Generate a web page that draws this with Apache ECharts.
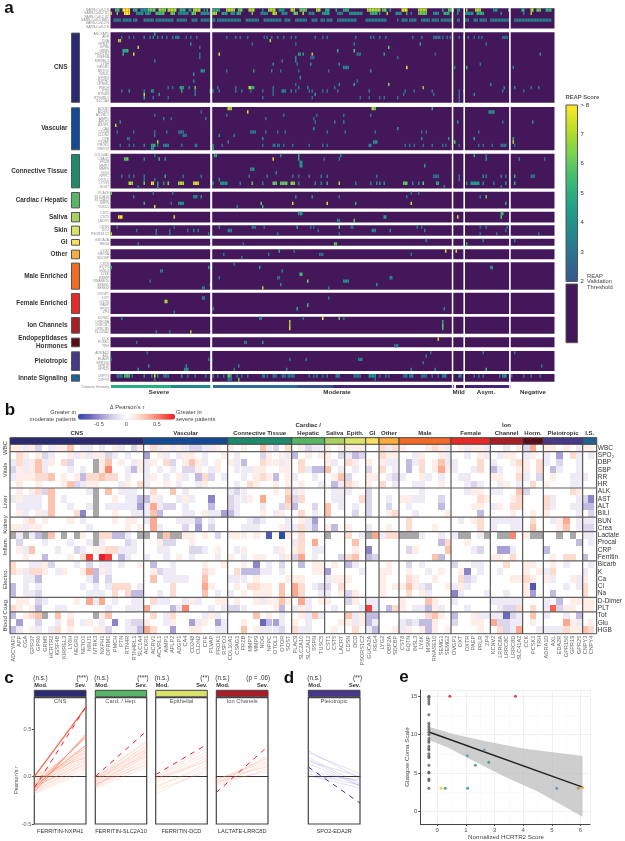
<!DOCTYPE html>
<html><head><meta charset="utf-8">
<style>html,body{margin:0;padding:0;background:#fff}#c{width:625px;height:841px}</style>
<script src="https://cdn.jsdelivr.net/npm/echarts@6/dist/echarts.min.js"></script>
</head><body><div id="c"></div>
<script>
const FONT='"Liberation Sans",Arial,sans-serif';
// ---------- gene names ----------
const genesCNS=['ADCYAP1','APP','CGA','GPR37','GPR6','GRM5','HCRTR2','IGSF4B','KIRREL3','LY6H','NEGR1','NETO1','NINJ1','NTRK3','NXPH1','OPRM1','PMCH','PTN','RTN4R','RTN4RL1','SLC1A4'];
const genesVascular=['ACKR1','ACRV1','ACVRL1','AIMP1','APLP2','AZGP1','CA4','CD248','CLDN2','CPE','PLVAP','PROK1','RSPO3'];
const genesConnective=['COL10A1','CSAG1','FRZB','MMP7','MMP9','NOG','NPPC','OTOL1','OTOR','SOST'];
const genesCardiac=['PLAC9','SLC2A10','SLC2A12','SSPN','TUSC5'];
const genesSaliva=['CST1','CST5','LACRT'];
const genesSkin=['CDSN','DCD','PSORS1C2'];
const genesGI=['GUCA2A','REG4'];
const genesOther=['LYG2','OBP2A','SDCBP'];
const genesMale=['CST8','EQTN','INSL3','LY6K','MSMP','RNASE10','SEMG1','SEMG2'];
const genesFemale=['OVGP1','OXT','OXTR','PAEP','PRLR','ZP4'];
const genesIon=['KCNV2','LRRC8A','LRRC8C','LRRC8D','SLC41A2'];
const genesHorm=['CCK','PCSK1','TRH'];
const genesPleio=['ADRA1D','AXL','EDA2R','GPR156','GPR19','GPR25'];
const genesInnate=['CNPY3','CNPY4'];
const genesTop=['SARS-CoV-2 S','SARS-CoV-2 S1','SARS-CoV-2 S2','SARS-CoV-2 RBD','SARS-CoV-2 N','SARS-CoV-2 E'];
const clinicalRows=['WBC','SPO₂','DBP','SBP','RR','HR','ALK','AST','ALT','BILI','BUN','Crea','Lactate','Procal','CRP','Ferritin','Bicarb','K','Ca','Cl','Na','D-Dimer','PLT','Tot','Glu','HGB'];

// ---------- panel a: [row, column, score, span] ----------
const cellsTop=[[0,3,5.5,3],[0,8,8,5],[0,15,5,3],[0,20,4,5],[0,25,6,5],[0,32,6.5,5],[0,38,7,6],[0,46,5,4],[0,52,4,2],[0,55,7,5],[0,62,4],[0,64,5],[0,68,5,5],[0,77,7,6],[0,85,6,3],[0,92,7,4],[0,101,4],[0,105,7,5],[0,112,4,4],[0,120,7,3],[0,126,6,5],[0,137,7,3],[0,143,5,3],[0,150,5],[0,155,5,4],[0,171,7,9],[0,181,6,3],[0,186,5],[0,194,7.5,4],[0,205,7,6],[0,221,5],[0,225,6,4],[0,231,4,2],[0,237,7],[0,243,7,4],[0,255,4,3],[0,265,6],[0,274,5,2],[0,280,7,2],[0,284,6,3],[0,290,5,4],
[1,0,7],[1,4,6],[1,9,8,4],[1,17,4,5],[1,23,4,4],[1,30,5.5,6],[1,40,6,3],[1,45,3.5,7],[1,54,6,3],[1,60,4,6],[1,68,7,3],[1,74,4.5,4],[1,80,4,3],[1,84,5,3],[1,94,6],[1,100,3.5,5],[1,108,7,3],[1,114,3.5,4],[1,122,6,3],[1,128,7],[1,132,3.5,4],[1,141,4.5,5],[1,151,3.5,4],[1,159,4,9],[1,173,5,5],[1,179,4],[1,184,7],[1,190,4,4],[1,197,5],[1,200,3.5],[1,205,6,6],[1,215,4,4],[1,222,5,4],[1,231,4],[1,236,4,6],[1,244,5,5],[1,260,4],[1,275,3.5],[1,280,7],
[3,2,3.3,5],[3,8,3.3,6],[3,15,3.3,3],[3,22,3.3,7],[3,30,3.3,12],[3,44,3.3,7],[3,54,3.3,4],[3,60,3.3,6],[3,68,3.3,2],[3,71,3.3,16],[3,90,3.3,9],[3,102,3.3,5],[3,107,3.3,7],[3,116,3.3,4],[3,123,3.3,8],[3,134,3.3,4],[3,140,3.3,3],[3,144,3.3,4],[3,151,3.3,13],[3,170,3.3,14],[3,191,3.3],[3,194,3.3,4],[3,199,3.3,5],[3,207,3.3,6],[3,214,3.3,5],[3,220,3.3,8],[3,231,3.3,2],[3,236,3.3,3],[3,242,3.3,3],[3,246,3.3,5],[3,253,3.3,13],[3,269,3.3,25]];
const cellsCNS=[[0,29,5],
[1,7,3],[1,12,3],[1,15,3],[1,22,3.5],[1,26,3],[1,28,4],[1,31,3.5],[1,34,3.5],[1,37,3],[1,41,3.5],[1,43,3.5,3],[1,50,3],[1,53,3],[1,57,3],[1,77,3],[1,83,3],[1,86,3],[1,91,3],[1,102,3],[1,104,3],[1,107,3],[1,111,3],[1,115,3],[1,120,3],[1,123,3],[1,136,3],[1,141,3],[1,144,3],[1,163,3],[1,173,3.5],[1,175,3],[1,179,3],[1,183,3],[1,201,3],[1,207,3],[1,215,3,5],[1,221,3],[1,224,3],[1,226,3],[1,232,3],[1,235,3],[1,238,3],[1,242,3],[1,245,3],[1,247,3],[1,261,3,4],
[2,5,7,2],[2,106,7],[3,53,4],[3,94,3],[3,123,3],[3,162,3.5],[3,206,4.5],[3,250,3],
[4,18,7],[4,59,3],[4,185,6],[5,8,5,4],[5,151,5],[5,162,6],
[6,8,5],[6,15,7.5],[6,59,3],[6,72,7.5],[6,125,4.5,2],[6,128,4.5],[6,134,7],[6,164,3,3],[6,182,4.5],[6,216,2.5],[6,286,4],
[7,59,3],[7,123,4],[7,133,2.5,3],[7,191,3],[8,29,3.5],[8,114,3.5],[8,123,4],
[9,108,4],[9,124,3],[9,133,4],[9,152,4],[9,246,3],
[10,155,3.5,4],[10,197,8],[10,229,3],[10,237,5],[10,268,3.5],
[11,60,4,3],[11,77,3],[11,95,4.5],[11,107,3.5],[11,113,3],[11,125,3],[11,145,3],[11,173,4.5],
[12,55,4],[13,126,4],[14,55,3.5],[14,164,3],
[15,123,3],[15,152,4],[15,162,5],[15,185,6.5],[15,253,4],
[16,38,3],[16,41,3],[16,46,4.5,3],[16,52,3],[16,56,6],[16,71,3],[16,83,3],[16,92,7,2],[16,94,5,2],[16,108,3],[16,125,3.5],[16,131,4],[16,149,3],[16,208,6.5],[16,262,3.5],[16,269,3.5],[16,280,3],[16,285,3],
[17,7,3],[17,12,4],[17,22,3],[17,27,4,2],[17,47,5],[17,56,3.5],[17,66,3,3],[17,72,3],[17,83,3],[17,87,3],[17,93,3],[17,101,3],[17,108,3],[17,114,3.5,3],[17,120,3.5],[17,123,3],[17,132,3],[17,134,3],[17,141,3],[17,144,3],[17,151,3],[17,172,3.5],[17,196,3],[17,202,3],[17,214,3],[17,232,3],[17,235,3.5],[17,261,3],[17,275,3],
[18,22,7],[18,32,4.5],[18,56,3.5],[18,108,3],[18,136,4.5],[18,195,3],[18,215,3],[18,232,3],[18,242,4],
[19,22,5],[19,28,3],[19,38,3],[19,101,3],[19,134,3],[19,166,3],[19,172,3],[19,179,3],[19,182,3],[19,191,3],[19,232,3],
[20,232,3]];
const cellsVascular=[[0,78,7,3],[0,174,7,2],[0,176,6],[0,214,5],[1,91,7.5],[1,60,3],[1,252,4,4],[2,29,3],[2,77,3],[2,115,3],[2,137,3],[2,155,3],[2,173,3.5],
[3,35,3.5],[3,40,3],[3,63,3],[3,103,3],[3,135,3],[4,6,4],[4,136,3],[4,149,3.5],[4,155,3.5],[4,231,4],[4,281,4],[4,261,3],[5,3,7],[6,135,4.5],[6,191,4.5],
[7,4,3],[7,15,3],[7,29,3],[7,37,3],[7,45,3,4],[7,93,3,4],[7,103,3],[7,111,3],[7,116,3],[7,144,3],[7,156,3],[7,176,3],[7,207,3],[7,210,3],[7,245,3],
[8,29,3],[8,48,3,3],[8,72,4],[8,82,3],[9,11,3,2],[9,101,4],[9,207,3.5],[9,225,4],[9,242,4.5],[9,268,5],
[10,31,7],[10,78,3.5],[10,175,4,3],[10,229,6],[10,268,7],
[11,6,3],[11,12,3],[11,15,3],[11,22,4],[11,27,5,3],[11,31,3],[11,35,3.5,4],[11,47,3],[11,56,3,2],[11,68,4],[11,74,3],[11,101,3],[11,108,3,2],[11,111,3,2],[11,115,3],[11,121,3],[11,132,3],[11,141,3],[11,144,3],[11,172,3.5,2],[11,196,3],[11,199,3],[11,202,3],[11,208,3],[11,214,3],[11,221,3],[11,223,3],[11,232,3],[11,245,3],[11,248,3],[11,254,3],[11,260,3,4],[11,269,3],
[12,27,4.5,2],[12,68,4]];
const cellsConnective=[[0,29,3],[0,69,5,2],[0,113,3.5],[0,125,5],[0,153,4],[0,242,5],[0,250,3],
[1,9,6,3],[1,22,3.5],[1,32,5],[1,36,4],[1,108,7.5],[1,125,5],[1,142,3],[1,152,3],[1,250,4.5],[1,272,3.5],[1,289,3],
[2,126,4,2],[3,126,4,2],[3,209,4.5],[4,93,4,3],[5,110,3.5],
[6,7,3],[6,12,3],[6,15,3],[6,22,3],[6,36,5],[6,48,3],[6,60,3],[6,92,3],[6,104,3],[6,121,3],[6,125,3],[6,132,3],[6,140,3.5],[6,144,3.5],[6,177,3],[6,215,3,4],[6,232,3],[6,248,4],[6,250,3.5],[6,260,3],[6,263,3],[6,269,5],[6,280,3,3],
[7,232,3],[7,22,3],[7,72,4],[7,29,3],
[8,12,7,3],[8,22,6],[8,27,8,2],[8,31,5],[8,35,4],[8,38,6.5],[8,45,7,4],[8,55,7.5,4],[8,68,3.5],[8,73,4,5],[8,86,3.5],[8,94,6],[8,101,3.5],[8,108,6,3],[8,113,6,5],[8,120,6.5,3],[8,125,3.5],[8,136,4],[8,140,4],[8,144,5],[8,152,7],[8,163,3.5],[8,173,4],[8,177,4],[8,179,4],[8,182,4],[8,195,6,3],[8,201,4],[8,205,4],[8,208,6],[8,217,5,2],[8,237,4],[8,240,4.5,6],[8,248,4],[8,255,3],[8,263,4],[8,269,5],
[9,18,3],[9,31,4],[9,222,3.5],[9,260,3]];
const cellsCardiac=[[0,0,6],[0,28,3],[0,41,3],[0,200,3],[0,205,3],
[1,15,3.5],[1,55,3.5,3],[1,60,4],[1,123,3.5],[1,134,4],[1,152,3],[1,197,3],[1,246,3],[1,250,6],
[3,22,5],[3,40,3],[3,45,4,4],[3,100,6],[3,121,7.5],[3,144,7.5],[3,163,5],[3,200,7.5],[3,263,5],[4,29,7.5],[4,84,3.5],[4,101,5]];
const cellsSaliva=[[0,125,4,3],[0,260,5.5,2],[1,5,8,3],[1,42,7.5],[1,182,4.5,2],[1,231,7.5],[1,260,6],[2,151,3.5,2],[2,162,6]];
const cellsSkin=[[0,4,3],[0,42,3],[0,72,4],[0,94,3,3],[0,102,3],[0,124,5],[0,133,3],[0,135,3],[0,152,6],[0,160,3,2],[0,204,3],[0,207,3],[0,246,3],[0,250,3.5],[0,264,3],
[1,17,3],[1,30,3.5],[1,39,3],[1,51,3],[1,55,3.5],[1,58,3.5],[1,78,3.5,3],[1,138,3],[1,174,3.5,3],[1,186,4],[1,209,3.5],[1,263,3],
[2,0,7],[2,30,3],[2,39,3],[2,65,3],[2,111,3.5],[2,152,3],[2,246,3],[2,257,3],[2,285,3]];
const cellsGI=[[0,210,3.5],[0,248,3.5],[0,269,3.5],[1,18,3.5],[1,88,3],[1,149,6,2],[1,237,5]];
const cellsOther=[[0,112,5],[0,122,3],[0,223,7.5],[0,230,7.5],[1,75,3],[1,105,3.5],[1,139,3,3],[1,200,3.5],[2,87,3]];
const cellsMale=[[0,82,3],[1,0,5],[1,65,4.5],[1,99,4],[1,253,4.5,2],[2,33,3.5,2],[2,114,3.5],[3,126,5.5,2],[4,72,3],[4,111,3,2],[4,186,3.5,2],[5,26,3],[5,131,6.5],[5,155,4,4],[6,66,3],[6,113,3.5],[6,177,4],[7,61,3.5,2],[7,101,7],[7,145,3]];
const cellsFemale=[[1,61,3.5,2],[1,145,3],[2,36,7,2],[3,131,5.5],[4,68,3],[4,124,5],[4,222,3.5],[5,42,3.5]];
const cellsIon=[[0,7,3.5],[0,99,3.5,2],[0,128,3],[0,141,8],[0,152,6],[0,155,3],[1,119,7],[1,221,5],[2,119,7],[2,221,6],[3,119,7.5],[3,221,5.5],[4,30,3.5],[4,39,3.5],[4,53,7]];
const cellsHorm=[[0,218,7.5],[1,17,3],[1,89,3.5,2],[1,101,4.5],[2,189,3,3]];
const cellsPleio=[[0,24,3],[0,213,3],[0,248,3.5],[0,269,3],[1,210,3.5],[2,0,3],[2,65,3],[2,119,3],[2,130,3],[2,165,3.5,3],[3,208,3],[4,25,4],[4,50,4],[4,85,3.5],[4,287,3],[5,18,4.5],[5,49,4,3],[5,82,3],[5,117,4],[5,200,3.5],[5,216,3.5],[5,250,5.5]];
const cellsInnate=[[0,4,3,4],[0,9,5.5,4],[0,14,3],[0,22,3.5],[0,27,4],[0,29,7.5],[0,31,4],[0,35,3,4],[0,47,4],[0,51,3],[0,56,3],[0,63,3],[0,68,3],[0,71,3],[0,75,3],[0,78,6,2],[0,80,4],[0,84,3],[0,87,3],[0,91,3],[0,101,3.5,2],[0,104,3],[0,108,3,3],[0,114,3,3],[0,118,3,5],[0,132,3],[0,135,3],[0,137,3.5],[0,141,3],[0,144,3],[0,150,3.5,3],[0,162,3,5],[0,172,4,5],[0,179,3],[0,183,3],[0,185,3],[0,195,3,3],[0,199,3.5,3],[0,207,3,4],[0,214,3],[0,218,3],[0,221,3.5,3],[0,232,4,2],[0,242,3],[0,245,3],[0,248,3],[0,259,3],[0,261,4,3],[0,267,3],[0,275,3],[0,280,3],[0,286,3],
[1,29,3.5],[1,78,3,3],[1,85,6],[1,176,3]];
// severity runs: [firstColumn, span, severityLevel]
const severityRuns=[[0,40,5],[40,27,4],[68,56,3],[124,24,2],[148,81,1],[230,7,0],[237,30,1]];

// ---------- panel b: Δ Pearson r in tenths, per clinical row, per gene group ----------
const _=null;
const dWBC=[[1,1,-1,1,-2,0,-1,1,1,3,0,-1,-1,0,-1,0,1,-1,0,-2,1],[0,2,-1,1,-1,1,-1,-2,-2,-1,-1,1,0],[1,0,1,0,0,3,-1,-2,0,2],[0,1,-2,-1,-1],[1,0,1],[1,1,1],[0,0],[2,-1,2],[1,0,0,0,1,2,1,-1],[0,1,-1,1,1,-1],[0,0,-1,0,1],[-2,4,0],[1,1,0,1,0,-1],[1,1]];
const dSPO2=[[0,2,1,0,1,-2,-1,0,0,1,-1,1,-1,1,1,-2,-1,0,-1,0,0],[-4,0,1,-1,0,-1,1,1,0,-1,0,0,1],[0,-1,0,0,0,-2,1,0,1,-1],[-3,0,1,0,1],[1,0,-2],[-1,-3,-2],[0,0],[2,1,1],[0,0,-1,1,0,0,1,-1],[0,0,-1,0,1,-1],[0,-1,1,1,0],[-1,1,0],[-1,0,-4,0,2,-1],[0,-1]];
const dDBP=[[-1,2,-1,1,3,-1,1,0,2,-2,0,0,0,_,1,3,0,1,0,-1,1],[-1,1,0,2,-2,0,1,3,1,-1,0,1,0],[1,-1,-3,0,0,2,1,1,-1,1],[0,2,0,0,0],[1,-1,0],[2,1,0],[1,0],[1,-1,-1],[0,-3,-1,2,0,1,3,-1],[-1,0,0,0,2,0],[-1,0,0,1,2],[1,0,2],[-1,0,-2,0,0,-1],[0,0]];
const dSBP=[[-2,1,-1,1,3,-1,0,0,0,-1,0,-1,0,_,1,5,0,0,-1,-3,1],[-1,0,-1,0,-1,0,-2,-2,1,0,-1,1,0],[0,-1,-1,-1,1,1,0,0,1,1],[0,2,-1,-3,-3],[3,0,-1],[0,-1,0],[-2,0],[2,0,-1],[0,-3,0,2,0,1,4,1],[-1,0,0,-1,2,0],[-3,-1,0,0,1],[1,0,2],[0,-3,-1,0,0,-1],[0,0]];
const dRR=[[-1,1,1,1,2,2,3,0,1,0,1,-3,2,2,3,2,2,0,-1,0,0],[-1,1,0,-1,0,1,-1,0,-3,2,-2,0,-1],[0,0,-1,0,1,2,1,-3,0,1],[-1,0,0,-1,0],[0,1,3],[-2,0,0],[1,1],[0,-1,-2],[-1,0,0,1,-1,0,-1,0],[0,-1,-1,0,0,0],[1,1,0,0,2],[-1,0,-2],[0,1,0,0,-1,-1],[-1,0]];
const dHR=[[0,1,0,0,1,0,0,0,1,3,-2,-1,1,1,0,0,0,-1,1,0,2],[-1,0,0,1,0,-1,0,0,-1,1,0,0,0],[0,-1,0,2,1,0,0,1,0,1],[0,1,0,0,-1],[0,-3,-1],[2,1,0],[1,0],[2,0,-1],[0,0,-1,-1,0,0,1,0],[0,0,-1,-2,-1,0],[0,-1,1,0,-1],[0,2,0],[1,0,0,0,-1,-1],[0,0]];
const dALK=[[0,1,0,1,2,-2,3,0,0,0,0,0,-1,_,0,3,0,-1,-1,-1,0],[0,2,0,0,3,0,-1,0,0,0,0,0,0],[-1,-2,-1,0,0,0,0,1,0,2],[-1,1,0,0,0],[0,-1,-1],[-1,0,0],[-2,0],[0,0,0],[0,0,0,-1,0,0,0,0],[0,0,-1,1,1,0],[-1,-1,0,0,3],[-2,0,0],[0,0,0,0,2,1],[0,0]];
const dAST=[[-1,1,-1,-1,-1,0,3,0,-1,0,0,0,0,_,0,0,1,0,-1,-1,-3],[-3,1,-1,0,0,-1,1,-1,0,0,-5,0,0],[-2,-1,-1,1,0,4,0,0,0,3],[-2,2,0,0,0],[0,-1,-1],[0,0,2],[-2,0],[0,-1,0],[1,1,-1,-1,0,0,-2,0],[0,0,0,0,2,1],[0,0,0,1,2],[0,0,0],[2,-1,0,0,0,-1],[-2,-5]];
const dALT=[[0,-1,-1,-1,-1,0,3,0,0,-1,0,0,-1,_,0,-1,-1,-1,-1,-1,-4],[-1,4,-1,-2,-2,0,-1,0,0,0,-3,0,0],[-2,-1,0,0,0,-1,0,0,-2,2],[-3,0,0,-2,0],[3,0,-1],[0,-1,0],[-2,0],[0,-2,0],[0,-1,0,0,0,0,-3,0],[0,0,0,1,1,0],[-1,1,0,2,2],[0,0,0],[2,-1,0,0,-1,-1],[-3,-3]];
const dBILI=[[0,1,-1,0,1,-1,3,0,0,0,2,-5,0,_,0,0,1,0,0,-1,-1],[-1,3,-3,0,0,0,-1,-1,0,1,-1,-1,-4],[-3,-1,0,0,0,1,0,-1,1,0],[0,2,0,-1,0],[3,0,0],[0,-2,0],[-2,0],[0,1,2],[0,0,-1,0,0,0,0,1],[0,0,0,0,-3,0],[0,0,0,1,0],[0,1,0],[1,0,0,0,0,-1],[0,-2]];
const dBUN=[[0,0,1,2,0,1,0,0,0,1,0,-1,0,0,0,0,1,0,1,1,0],[-1,4,0,0,0,-1,-1,-1,-3,0,-1,0,0],[0,0,0,-1,-2,-1,0,0,0,-1],[0,1,-1,-4,0],[0,0,0],[0,0,0],[0,0],[0,0,0],[0,2,0,0,0,0,0,0],[0,-1,0,1,2,0],[-1,-1,-1,-1,-1],[0,2,0],[0,-1,1,4,0,-1],[-1,-1]];
const dCrea=[[1,1,-1,1,1,0,0,0,0,0,0,0,-1,0,0,0,0,0,1,0,1],[0,4,-1,0,0,0,-2,0,-4,0,-2,0,0],[0,0,-1,-1,-1,0,0,0,1,-1],[-1,2,-1,-3,0],[1,-3,0],[1,0,0],[-1,0],[0,1,0],[0,2,0,0,0,1,0,0],[0,0,0,0,2,0],[-1,0,0,-1,-1],[0,3,0],[0,0,1,3,0,-1],[-2,-2]];
const dLactate=[[_,-1,_,-1,-3,_,3,0,_,0,_,1,0,_,2,2,-3,-3,-1,0,_],[_,0,_,3,_,_,1,1,0,1,0,-2,0],[1,1,1,0,1,0,-7,0,-8,1],[0,2,0,0,0],[_,0,0],[2,0,-1],[_,4],[-1,2,2],[_,_,_,-1,0,0,-1,0],[-1,_,_,0,-1,_],[0,_,_,5,0],[1,_,_],[0,0,_,0,_,0],[-1,-1]];
const dProcal=[[0,-2,0,0,0,-1,0,0,0,-1,0,0,-1,_,-1,0,0,0,-2,-1,0],[0,0,1,-2,-2,0,0,1,0,0,0,0,0],[0,0,0,0,0,0,0,0,0,0],[-1,2,0,4,0],[0,0,0],[0,3,0],[0,0],[0,0,0],[0,0,0,0,0,0,-3,2],[0,0,1,0,0,0],[0,0,0,0,0],[0,0,0],[0,0,0,0,0,-3],[0,-1]];
const dCRP=[[0,1,-1,3,0,0,0,-1,0,0,-2,-1,0,1,1,2,2,-1,-1,-1,0],[0,0,-1,-1,0,0,0,-2,-2,-1,0,1,0],[0,-1,1,0,0,0,0,-1,1,0],[1,2,0,-1,-1],[0,0,0],[0,1,0],[-5,0],[0,0,0],[0,-2,1,0,0,0,0,3],[0,0,0,-1,-2,0],[0,-4,-4,-1,0],[0,0,0],[-3,0,0,0,0,0],[0,0]];
const dFerritin=[[0,0,1,0,0,-3,0,0,0,1,0,2,7,0,8,7,0,-3,-1,0,0],[-1,0,0,-1,0,1,0,-1,0,0,0,-1,0],[1,0,-1,0,1,1,0,0,-1,1],[-2,4,0,-1,0],[0,0,-2],[2,3,0],[-3,-2],[0,0,0],[0,0,0,0,0,3,-3,0],[0,0,0,0,0,0],[1,1,0,2,0],[0,0,0],[0,1,0,2,2,0],[-3,0]];
const dBicarb=[[2,0,0,-1,-1,1,-2,0,0,0,-1,0,-2,0,-1,-1,0,-1,0,0,1],[0,-3,0,0,-1,0,0,0,0,1,0,0,1],[0,0,1,0,-5,0,-1,0,-2,0],[0,-3,0,1,1],[0,1,0],[-3,-1,0],[0,0],[0,1,0],[0,-2,0,-1,0,0,0,0],[-2,0,0,-1,-1,0],[0,0,2,0,0],[1,1,0],[0,1,0,-1,0,0],[0,-1]];
const dK=[[2,1,-1,2,2,1,0,-1,1,0,0,1,4,-3,1,-1,0,0,0,0,0],[0,1,-2,-1,-1,0,0,0,0,2,1,0,0],[0,2,-3,-3,-3,-1,-1,0,-1,0],[0,0,0,1,1],[-4,0,0],[0,0,-1],[0,0],[1,1,0],[0,1,0,0,-1,0,1,0],[0,1,-5,0,-1,0],[0,-1,0,0,0],[1,0,1],[-1,2,0,0,0,0],[-1,0]];
const dCa=[[0,0,-1,-1,-3,0,0,0,0,0,0,0,-1,-3,0,-2,0,0,0,0,0],[0,3,0,-1,-1,-1,-1,0,0,3,0,0,0],[-1,-1,-1,0,1,0,0,0,0,1],[1,1,0,0,0],[-1,1,1],[1,0,0],[0,0],[1,0,0],[0,2,1,0,0,1,0,0],[0,2,-2,-1,0,0],[0,0,0,1,1],[2,1,0],[1,-1,0,0,1,-1],[1,0]];
const dCl=[[-3,0,-1,0,-1,0,0,0,0,0,0,-1,0,-1,0,-1,2,2,2,0,-1],[0,0,0,0,2,0,0,0,0,4,1,0,0],[0,1,0,2,2,1,1,0,3,0],[4,2,0,-1,-2],[-2,0,2],[0,0,0],[0,0],[1,0,1],[1,3,1,-1,-2,0,0,1],[-1,1,-1,0,0,0],[0,0,0,0,0],[1,-7,0],[0,0,0,-1,0,-1],[2,0]];
const dNa=[[-3,0,-1,-1,-2,0,0,0,0,0,0,0,-1,-1,-1,0,2,0,2,-3,-3],[0,0,-1,0,2,0,0,0,0,3,0,-1,0],[-1,0,1,0,1,1,1,0,3,0],[4,2,0,0,-1],[-1,0,1],[-2,1,0],[0,0],[1,0,0],[0,2,0,1,-1,0,0,0],[-5,-1,0,0,0,-1],[0,0,-1,0,0],[1,-4,0],[0,-3,0,0,0,0],[2,0]];
const dDDimer=[[0,1,1,0,-2,-1,0,0,0,0,1,0,4,-1,4,0,-1,0,0,-1,-1],[0,2,-1,-1,0,0,-1,1,-1,0,0,1,1],[0,1,0,0,1,-1,1,1,3,1],[0,4,-1,0,1],[1,0,0],[-2,1,0],[-1,-1],[0,0,0],[1,0,0,0,3,1,0,0],[-1,0,0,0,0,0],[-1,-1,-1,-1,-1],[0,0,0],[-1,0,-3,0,1,1],[1,1]];
const dPLT=[[2,1,0,1,-3,0,0,-1,-1,0,0,0,0,0,0,-1,0,0,-1,-1,-1],[4,0,0,0,-3,-1,5,0,0,0,-1,0,-1],[-2,-2,-1,0,0,0,0,1,-3,0],[-1,1,-1,0,0],[0,-1,0],[0,0,-1],[7,-1],[0,-3,2],[1,0,-1,-1,-3,1,-1,0],[0,0,-1,0,0,0],[0,-1,-2,-2,2],[0,2,0],[-1,6,-2,1,1,0],[1,1]];
const dTot=[[-3,0,1,2,3,_,0,3,0,1,0,0,0,_,1,3,0,0,0,0,0],[0,2,0,-1,2,0,0,0,0,-1,1,-1,0],[0,0,0,0,3,0,1,0,-1,0],[0,1,-1,3,-1],[0,0,0],[3,-1,1],[-3,-3],[0,0,0],[0,0,0,0,2,3,1,0],[-3,0,0,1,-1,-1],[-1,-1,-6,-2,-1],[0,3,0],[-1,0,0,-1,0,-3],[0,0]];
const dGlu=[[0,-4,0,0,-2,0,0,-1,0,2,0,-1,1,0,-1,0,-5,0,-1,-2,-2],[1,0,0,-1,1,0,0,-4,-1,1,0,-4,-1],[0,0,1,0,0,-6,-3,-4,-1,0],[1,0,-1,0,0],[0,0,1],[1,-1,1],[-3,-1],[0,0,0],[-1,-2,-1,-3,-3,1,0,0],[-2,0,0,1,1,0],[4,-2,-2,-1,-1],[0,1,0],[0,0,0,4,1,-1],[0,1]];
const dHGB=[[-3,-1,0,1,-1,0,-1,2,0,1,0,0,0,1,1,-2,0,0,-1,-1,-3],[4,2,0,0,-4,0,0,1,1,0,0,-1,-1],[0,0,3,0,1,-1,-1,-1,-2,0],[2,-1,-1,0,0],[0,1,0],[0,2,0],[-1,-3],[0,0,1],[-1,1,0,1,-3,1,0,1],[0,0,0,0,1,0],[0,2,-2,-1,4],[0,0,-1],[-1,-1,-1,2,1,1],[3,2]];
const deltaRows=[dWBC,dSPO2,dDBP,dSBP,dRR,dHR,dALK,dAST,dALT,dBILI,dBUN,dCrea,dLactate,dProcal,dCRP,dFerritin,dBicarb,dK,dCa,dCl,dNa,dDDimer,dPLT,dTot,dGlu,dHGB];

// ---------- panel c / d: [moderate r, severe r] ----------
const cnsPale=[[-0.18,0.05],[-0.17,0.08],[-0.16,0.1],[-0.15,0.14],[-0.14,0.12],[-0.13,0.17],[-0.12,0.2],[-0.11,0.16],[-0.1,0.22],[-0.09,0.25],[-0.08,0.18],[-0.07,0.28],[-0.06,0.24],[-0.05,0.3],[-0.04,0.21],[-0.03,0.26],[-0.02,0.33],[0,0.3],[0.01,0.2],[-0.14,0.28],[-0.12,0.31],[-0.1,0.13]];
const cnsStrong=[[-0.16,0.45],[-0.13,0.43],[-0.1,0.33],[-0.09,0.41]];
const cnsSolid=[[0,0.73]];
const cnsDash=[-0.12,0.735];
const cardPale=[[-0.12,0.1],[-0.11,0.14],[-0.1,0.18],[-0.09,0.22],[-0.08,0.16],[-0.07,0.24],[-0.06,0.2],[-0.05,0.26],[-0.04,0.28],[-0.03,0.3],[-0.02,0.22],[-0.01,0.32],[0,0.36],[0,0.28],[-0.06,0.34],[-0.1,0.26],[-0.03,0.38],[-0.08,0.12]];
const cardDash=[0,0.48];
const epiPale=[[-0.18,0.08],[-0.14,0.05],[-0.12,0.14],[-0.1,0.1],[-0.07,0.18],[-0.05,0.2],[-0.03,0.23],[-0.01,0.26],[0,0.3],[-0.02,0.16]];
const epiDash=[0.02,0.34];
const ionPale=[[-0.1,0.08],[-0.09,0.15],[-0.08,0.22],[-0.07,0.12],[-0.06,0.19],[-0.05,0.05],[-0.04,0.2],[-0.03,0.16],[-0.02,0.1]];
const ionDash=[-0.17,0.32];
const pleioPale=[[0.27,-0.02],[0.25,0.03],[0.2,-0.08],[0.18,-0.1],[0.14,-0.1],[0.06,-0.05],[0.03,-0.09],[0.01,-0.12],[0,-0.03],[0.16,0]];
const pleioDash=[0.1,-0.28];

// ---------- panel e ----------
const gcsAtZero=[3,4,4.2,5,5.1,6,7,7.2,7.5,8,8.2,8.5,9,9.2,9.5,10,10.3,10.6,10.9,11.2,11.5,12.6,14,14.3,14.6,14.9,15];
const xTickLabels=[0,1,3,4,5,6];
const hcrtrPoints=[[0.44,15,'#c8202f'],[2.73,15,'#c8106c'],[1.64,8,'#6a8fc4'],[1.05,7.25,'#6a8fc4'],[1.8,6.4,'#1f9e5f'],[1.33,6,'#1f9e5f'],[0.13,3,'#e8c820'],[0.28,3,'#1f9e5f'],[1.06,3,'#1f9e5f'],[4.17,3,'#3f8fd0'],[4.92,3,'#b08d50'],[5.07,3.1,'#e8962a']];
const fitLine=[[-0.29,10.35],[5.07,3.15]];
const bandUpper=[[-0.29,11.04],[0.62,10.04],[1.66,9.17],[2.94,8.22],[5.07,7.22]];
const bandLower=[[-0.29,9.3],[0.38,8.3],[1.2,6.7],[2.36,4.52],[3.52,2.57],[5.07,-0.7]];

// ---------- layout ----------
const NCOL=296, A_LEFT=110.5, A_W=444;
const aPanels=[
 {cells:cellsTop,genes:genesTop,top:8.3,h:20.2},
 {cells:cellsCNS,genes:genesCNS,top:32.3,h:70.5,label:['CNS'],color:'#2a2a72'},
 {cells:cellsVascular,genes:genesVascular,top:107,h:43.3,label:['Vascular'],color:'#134a96'},
 {cells:cellsConnective,genes:genesConnective,top:153.7,h:34.7,label:['Connective Tissue'],color:'#1d8a6c'},
 {cells:cellsCardiac,genes:genesCardiac,top:191.7,h:16.7,label:['Cardiac / Hepatic'],color:'#58b566'},
 {cells:cellsSaliva,genes:genesSaliva,top:211.7,h:10.7,label:['Saliva'],color:'#a9d15e'},
 {cells:cellsSkin,genes:genesSkin,top:225.3,h:10.4,label:['Skin'],color:'#d9e36a'},
 {cells:cellsGI,genes:genesGI,top:238.7,h:7,label:['GI'],color:'#f8de62'},
 {cells:cellsOther,genes:genesOther,top:249.3,h:10,label:['Other'],color:'#f9ac3c'},
 {cells:cellsMale,genes:genesMale,top:262.3,h:27.4,label:['Male Enriched'],color:'#f26b24'},
 {cells:cellsFemale,genes:genesFemale,top:292.7,h:21.3,label:['Female Enriched'],color:'#e82a26'},
 {cells:cellsIon,genes:genesIon,top:316.7,h:17,label:['Ion Channels'],color:'#a81d26'},
 {cells:cellsHorm,genes:genesHorm,top:337.3,h:10,label:['Endopeptidases','Hormones'],color:'#5a0c1a'},
 {cells:cellsPleio,genes:genesPleio,top:351,h:20,label:['Pleiotropic'],color:'#47388a'},
 {cells:cellsInnate,genes:genesInnate,top:374,h:7.7,label:['Innate Signaling'],color:'#1f6296'}
];
const bGroups=[
 {genes:genesCNS,title:['CNS'],color:'#2a2a72'},{genes:genesVascular,title:['Vascular'],color:'#134a96'},
 {genes:genesConnective,title:['Connective Tissue'],color:'#1d8a6c'},{genes:genesCardiac,title:['Cardiac /','Hepatic'],color:'#58b566'},
 {genes:genesSaliva,title:['Saliva'],color:'#a9d15e'},{genes:genesSkin,title:['Epith.'],color:'#d9e36a'},
 {genes:genesGI,title:['GI'],color:'#f8de62'},{genes:genesOther,title:['Other'],color:'#f9ac3c'},
 {genes:genesMale,title:['Male'],color:'#f26b24'},{genes:genesFemale,title:['Female'],color:'#e82a26'},
 {genes:genesIon,title:['Ion','Channel'],color:'#a81d26'},{genes:genesHorm,title:['Horm.'],color:'#5a0c1a'},
 {genes:genesPleio,title:['Pleiotropic'],color:'#47388a'},{genes:genesInnate,title:['I.S.'],color:'#1f6296'}];
const bEdges=[10,143.7,227.7,291.7,324.7,344.7,365.7,379,399,451,490.3,522.7,543.3,582.7,596.7];
const B_TOP=444.3,B_H=189.4,ROW_H=B_H/26;
const rowBreaks=[1,6,10,12,16,21,23];
const rowGroups=[['WBC',448],['Vitals',470],['Liver',502],['Kidney',524.5],['Inflam.',546.5],['Electro.',579],['Blood Coag.',615]];

const grid=[],xAxis=[],yAxis=[],series=[],gfx=[];
function text(x,y,str,o={}){
  gfx.push({type:'text',x,y,rotation:o.rot||0,z:60,silent:true,style:{text:str,fill:o.color||'#333',
    font:(o.bold?'bold ':'')+(o.size||6.5)+'px '+FONT,textAlign:o.align||'center',textVerticalAlign:'middle'}});
}
function rect(x,y,w,h,fill,stroke,z){
  gfx.push({type:'rect',z:z||40,silent:true,shape:{x,y,width:w,height:h},style:{fill,stroke:stroke||null,lineWidth:stroke?1:0}});
}
function line(x1,y1,x2,y2,color,w){
  gfx.push({type:'line',z:50,silent:true,shape:{x1,y1,x2,y2},style:{stroke:color,lineWidth:w||1}});
}
function addGrid(g,x,y){grid.push(g);x.gridIndex=y.gridIndex=grid.length-1;xAxis.push(x);yAxis.push(y);return grid.length-1;}
// cell drawn through the axes' scales; colour from the visualMap (grey for NA)
function cellRenderer(snap){
  return (params,api)=>{
    const c=api.coord([api.value(0),api.value(1)]), s=api.size([1,1]);
    let x0=c[0]-s[0]/2,x1=c[0]+s[0]/2,y0=c[1]-s[1]/2,y1=c[1]+s[1]/2;
    if(snap){x0=Math.round(x0);x1=Math.round(x1);y0=Math.round(y0);y1=Math.round(y1);}
    return {type:'rect',shape:{x:x0,y:y0,width:x1-x0,height:y1-y0},
      style:{fill:api.value(2)===99?'#a8a8a8':api.visual('color')}};
  };
}

// ---------- a ----------
const colNames=Array.from({length:NCOL},(_v,i)=>String(i));
const aSeries=[];
aPanels.forEach(p=>{
  const gi=addGrid({left:A_LEFT,top:p.top,width:A_W,height:p.h,show:true,backgroundColor:'#43175a',borderWidth:0},
    {type:'category',data:colNames,show:false},
    {type:'category',data:p.genes,inverse:true,axisLine:{show:false},axisTick:{show:false},splitLine:{show:false},
     axisLabel:{interval:0,fontSize:3.4,color:'#8a8a8a',margin:1.5}});
  const data=[];
  p.cells.forEach(c=>{for(let k=0;k<(c[3]||1);k++)data.push([c[1]+k,c[0],c[2]]);});
  aSeries.push(series.length);
  series.push({type:'custom',xAxisIndex:gi,yAxisIndex:gi,data,silent:true,encode:{x:0,y:1},renderItem:cellRenderer(false)});
  if(p.label){
    rect(71.5,p.top+0.8,8,p.h-1.3,p.color,'#555');
    const cy=p.top+p.h/2;
    if(p.label.length===1) text(67.5,cy,p.label[0],{align:'right',bold:true,size:6.4});
    else {text(67.5,cy-3.8,p.label[0],{align:'right',bold:true,size:6.4});text(67.5,cy+3.8,p.label[1],{align:'right',bold:true,size:6.4});}
  }
});
// severity bar
const sevData=[];
severityRuns.forEach(r=>{for(let k=0;k<r[1];k++)sevData.push([r[0]+k,0,r[2]]);});
const sevGi=addGrid({left:A_LEFT,top:385,width:A_W,height:3.3},{type:'category',data:colNames,show:false},
  {type:'category',data:['Disease Severity'],axisLine:{show:false},axisTick:{show:false},axisLabel:{interval:0,fontSize:3.6,color:'#888',margin:1.5}});
const sevIdx=series.length;
series.push({type:'custom',xAxisIndex:sevGi,yAxisIndex:sevGi,data:sevData,silent:true,encode:{x:0,y:1},renderItem:cellRenderer(true)});
[['Severe',159],['Moderate',337],['Mild',458.7],['Asym.',486],['Negative',533]].forEach(t=>text(t[1],392,t[0],{bold:true,size:6.2}));
// column gaps of the heatmap
[[210.2,2],[451.8,1.5],[463.4,1.6],[509.1,1.6]].forEach(g=>rect(g[0],6,g[1],384,'#fff',null,45));
// REAP colour bar
const barGi=addGrid({left:566,top:105,width:11.5,height:176.5,show:false},{type:'category',data:['x'],show:false},
  {type:'value',min:2,max:8,interval:1,position:'right',z:12,axisLine:{show:false},splitLine:{show:false},
   axisTick:{inside:true,length:4,lineStyle:{color:'#333'}},
   axisLabel:{fontSize:6,color:'#333',margin:3,formatter:v=>v===8?'> 8':String(v)}});
rect(566,105,11.5,176.5,'transparent','#555',30);
rect(566,284,11.5,58.7,'#43175a','#555',30);
text(565.5,97.5,'REAP Score',{align:'left',bold:true,size:5.8,color:'#555'});
[['REAP',276],['Validation',281.7],['Threshold',287]].forEach(t=>text(587,t[1],t[0],{align:'left',size:5.8,color:'#444'}));

// ---------- b ----------
const bSeries=[];
bGroups.forEach((g,f)=>{
  const isLast=f===bGroups.length-1, data=[];
  deltaRows.forEach((row,r)=>{ (row[f]||[]).forEach((v,j)=>{ data.push([j,r,v===null?99:v/10]); }); });
  const gi=addGrid({left:bEdges[f],top:B_TOP,width:bEdges[f+1]-bEdges[f],height:B_H},
    {type:'category',data:g.genes,axisLine:{show:false},axisTick:{show:false},splitLine:{show:false},
     axisLabel:{interval:0,rotate:90,fontSize:5.6,color:'#6a6a6a',margin:2}},
    isLast?{type:'category',data:clinicalRows,inverse:true,position:'right',axisLine:{show:false},axisTick:{show:false},splitLine:{show:false},axisLabel:{interval:0,fontSize:6.5,color:'#333',margin:4}}
          :{type:'category',data:clinicalRows,inverse:true,show:false});
  bSeries.push(series.length);
  series.push({type:'custom',xAxisIndex:gi,yAxisIndex:gi,data,silent:true,encode:{x:0,y:1},renderItem:cellRenderer(true)});
  rect(bEdges[f],437.7,bEdges[f+1]-bEdges[f],6.6,g.color,'#444');
  const cx=(bEdges[f]+bEdges[f+1])/2;
  if(g.title.length===1) text(cx,433,g.title[0],{bold:true,size:6});
  else {text(cx,425.5,g.title[0],{bold:true,size:6});text(cx,433,g.title[1],{bold:true,size:6});}
});
bEdges.forEach(x=>line(x,B_TOP,x,B_TOP+B_H,'#3a3a3a',1));
line(10,B_TOP+B_H,596.7,B_TOP+B_H,'#555',1);
rowBreaks.forEach(k=>line(10,B_TOP+k*ROW_H,596.7,B_TOP+k*ROW_H,'#606060',1.2));
rowGroups.forEach(t=>text(5,t[1],t[0],{rot:Math.PI/2,size:6,color:'#444'}));
text(76,412,'Greater in',{align:'right',size:5.8,color:'#444'});text(76,419.7,'moderate patients',{align:'right',size:5.8,color:'#444'});
text(176,412,'Greater in',{align:'left',size:5.8,color:'#444'});text(176,419.7,'severe patients',{align:'left',size:5.8,color:'#444'});
text(127,407.5,'Δ Pearson\'s r',{size:5.8,color:'#444'});
[['-0.5',99],['0',126.3],['0.5',156.7]].forEach(t=>text(t[1],424.5,t[0],{size:5.8,color:'#555'}));

// ---------- c, d ----------
const PALE_RED='rgba(248,140,110,0.22)',STRONG='rgba(245,120,90,0.6)',SOLID='rgba(240,90,60,0.9)',PALE_BLUE='rgba(130,110,190,0.22)';
const facets=[
 {x:34.3,w:51.7,title:'CNS',strip:'#2a2a72',sig:'(***)',name:'FERRITIN-NXPH1',pale:cnsPale,strong:cnsStrong,solid:cnsSolid,dash:cnsDash,paleColor:PALE_RED,dashColor:'#ee1c30',axis:true},
 {x:95.3,w:51.4,title:'Card. / Hep.',strip:'#58b566',sig:'(***)',name:'FERRITIN-SLC2A10',pale:cardPale,dash:cardDash,paleColor:PALE_RED,dashColor:'#ee1c30'},
 {x:155.7,w:51.6,title:'Epithelial',strip:'#d9e36a',sig:'(**)',name:'FERRITIN-DCD',pale:epiPale,dash:epiDash,paleColor:PALE_RED,dashColor:'#ee1c30'},
 {x:216.3,w:51.7,title:'Ion Chanels',strip:'#a81d26',sig:'(p = .06)',name:'LACTATE-LRRC8D',pale:ionPale,dash:ionDash,paleColor:PALE_RED,dashColor:'#ee1c30'},
 {x:308.3,w:51.7,title:'Pleiotropic',strip:'#47388a',sig:'(**)',name:'SPO2-EDA2R',pale:pleioPale,dash:pleioDash,paleColor:PALE_BLUE,dashColor:'#3a2f9a'}];
facets.forEach(f=>{
  const gi=addGrid({left:f.x,top:697.7,width:f.w,height:126.3,show:true,borderColor:'#444',borderWidth:1.2,backgroundColor:'#fff'},
   {type:'category',data:['Mod.','Sev.'],boundaryGap:false,axisLine:{onZero:true,lineStyle:{color:'#333',width:1}},axisTick:{show:false},axisLabel:{show:false},splitLine:{show:false}},
   {type:'value',min:-0.5,max:0.83,interval:0.5,splitLine:{show:false},
    axisLine:{show:false},axisTick:{show:!!f.axis,length:2.5,lineStyle:{color:'#555'}},
    axisLabel:{show:!!f.axis,showMaxLabel:false,fontSize:5.6,color:'#666',margin:3,formatter:v=>v.toFixed(1)}});
  const add=(d,color,w,type)=>series.push({type:'line',xAxisIndex:gi,yAxisIndex:gi,data:d,symbol:'none',silent:true,lineStyle:{color,width:w||1,type:type||'solid'}});
  f.pale.forEach(d=>add(d,f.paleColor,1));
  (f.strong||[]).forEach(d=>add(d,STRONG,1));
  (f.solid||[]).forEach(d=>add(d,SOLID,1.3));
  add(f.dash,f.dashColor,1,[5,5]);
  rect(f.x,690.3,f.w,6.5,f.strip,'#444');
  text(f.x+f.w/2,701.5,f.title,{size:5.8,color:'#555'});
  text(f.x-1,678,'(n.s.)',{align:'left',size:6.3,color:'#333'});
  text(f.x+f.w+2,678,f.sig,{align:'right',size:6.3,color:'#333'});
  text(f.x,685,'Mod.',{align:'left',bold:true,size:5.6,color:'#333'});
  text(f.x+f.w,685,'Sev.',{align:'right',bold:true,size:5.6,color:'#333'});
  text(f.x+f.w/2,831.5,f.name,{size:5.6,color:'#333'});
});
text(16,780,'Pearson\'s r',{rot:Math.PI/2,size:5.6,color:'#444'});

// ---------- e ----------
const eGi=addGrid({left:420.3,top:690,width:169.7,height:134},
 {type:'value',min:-0.59,max:5.33,splitNumber:6,axisLine:{onZero:false,lineStyle:{color:'#444',width:1}},axisTick:{length:2,lineStyle:{color:'#444'}},
  splitLine:{lineStyle:{color:'#ececec',width:0.8}},minorSplitLine:{show:true,lineStyle:{color:'#f4f4f4',width:0.5}},minorTick:{show:false,splitNumber:2},
  axisLabel:{fontSize:6,color:'#555',margin:3,showMinLabel:false,showMaxLabel:false,formatter:v=>Number.isInteger(v)?String(xTickLabels[v]):''}},
 {type:'value',min:-1.65,max:15.83,splitNumber:4,axisLine:{show:true,onZero:false,lineStyle:{color:'#444',width:1}},axisTick:{show:true,length:2,lineStyle:{color:'#444'}},
  splitLine:{lineStyle:{color:'#ececec',width:0.8}},minorSplitLine:{show:true,lineStyle:{color:'#f4f4f4',width:0.5}},minorTick:{show:false,splitNumber:2},
  axisLabel:{fontSize:6,color:'#555',margin:3,showMinLabel:false,showMaxLabel:false}});
series.push({type:'custom',xAxisIndex:eGi,yAxisIndex:eGi,silent:true,z:2,encode:{x:0,y:1},data:bandUpper.map(p=>[p[0],p[1]]),
 renderItem(params,api){
  if(params.dataIndex!==0)return null;
  const pts=bandUpper.concat(bandLower.slice().reverse()).map(p=>api.coord(p));
  return {type:'polygon',shape:{points:pts},style:{fill:'rgba(190,190,190,0.75)',stroke:null}};
 }});
series.push({type:'line',xAxisIndex:eGi,yAxisIndex:eGi,data:fitLine,symbol:'none',z:4,silent:true,lineStyle:{color:'#222',width:1.4}});
series.push({type:'scatter',xAxisIndex:eGi,yAxisIndex:eGi,data:gcsAtZero.map(y=>[-0.29,y]),symbolSize:2.6,z:5,silent:true,itemStyle:{color:'#666',borderColor:'#333',borderWidth:0.3}});
series.push({type:'scatter',xAxisIndex:eGi,yAxisIndex:eGi,z:5,silent:true,symbolSize:3,data:hcrtrPoints.map(p=>({value:[p[0],p[1]],itemStyle:{color:p[2]}}))});
text(506,837,'Normalized HCRTR2 Score',{size:6.2,color:'#444'});
text(407,757,'Glasgow Coma Scale',{rot:Math.PI/2,size:6.2,color:'#444'});

// panel letters
[['a',9,8],['b',10,410],['c',9,678],['d',289,678],['e',404,677]].forEach(t=>text(t[1],t[2],t[0],{bold:true,size:17,color:'#111'}));

const chart=echarts.init(document.getElementById('c'),null,{renderer:'canvas',width:625,height:841});
chart.setOption({animation:false,backgroundColor:'#fff',textStyle:{fontFamily:FONT},tooltip:{show:false},
 grid,xAxis,yAxis,series,
 graphic:{elements:gfx},
 visualMap:[
  {type:'continuous',dimension:2,seriesIndex:aSeries,min:2,max:8,calculable:false,left:551,top:90,itemWidth:11.5,itemHeight:176.5,text:null,showLabel:false,z:1,
   inRange:{color:['#39568c','#2d708e','#238a8d','#20a386','#3cbb75','#73d055','#b8de29','#fde725']}},
  {type:'continuous',dimension:2,seriesIndex:bSeries,min:-0.8,max:0.8,calculable:false,orient:'horizontal',left:63,top:398.7,itemWidth:6,itemHeight:97,text:null,showLabel:false,z:1,
   inRange:{color:['#2e4ba8','#6d69ba','#a89fd6','#dcd6ec','#ffffff','#fddccf','#fba98f','#f6644f','#ee1c25']}},
  {type:'continuous',dimension:2,show:false,seriesIndex:[sevIdx],min:0,max:5,inRange:{color:['#43175a','#45257a','#3a4f8a','#2e6b96','#1f8a8c','#27ae80']}}
 ]});
</script></body></html>
